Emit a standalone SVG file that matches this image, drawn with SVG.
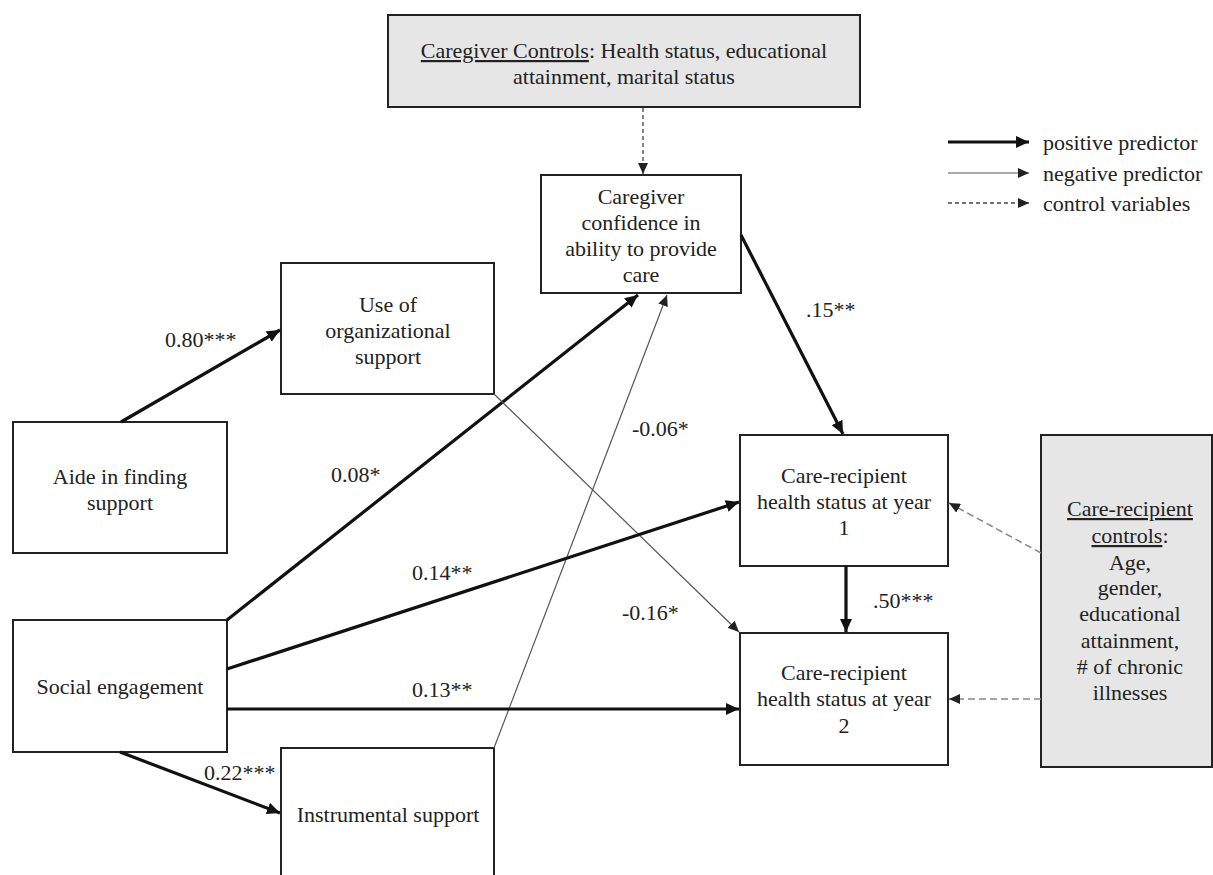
<svg xmlns="http://www.w3.org/2000/svg" width="1213" height="875" viewBox="0 0 1213 875">
<style>
text{font-family:"Liberation Serif","Times New Roman",serif;font-size:22px;fill:#222;}
.n{text-anchor:middle;}
.box{fill:#fff;stroke:#222;stroke-width:2;}
.ctl{fill:#e6e6e6;stroke:#222;stroke-width:2;}
.pos{stroke:#111;stroke-width:3.2;fill:none;}
.neg{stroke:#555;stroke-width:1.2;fill:none;}
.dk{stroke:#444;stroke-width:1.3;stroke-dasharray:4 3;fill:none;}
.lt{stroke:#888;stroke-width:1.5;stroke-dasharray:7 4;fill:none;}
</style>
<defs>
<marker id="ah" markerUnits="userSpaceOnUse" markerWidth="14" markerHeight="12" refX="13" refY="6" orient="auto"><path d="M0,0 L13,6 L0,12 z" fill="#111"/></marker>
<marker id="ahs" markerUnits="userSpaceOnUse" markerWidth="12" markerHeight="10" refX="11" refY="5" orient="auto"><path d="M0,0 L11,5 L0,10 z" fill="#222"/></marker>
</defs>

<g id="caregiver-controls">
<rect class="ctl" x="388" y="15" width="472" height="92"/>
<text class="n" x="624" y="58"><tspan text-decoration="underline">Caregiver Controls</tspan>: Health status, educational</text>
<text class="n" x="624" y="84">attainment, marital status</text>
</g>

<g id="confidence">
<rect class="box" x="541" y="175" width="200" height="118"/>
<text class="n" x="641" y="204">Caregiver</text>
<text class="n" x="641" y="230">confidence in</text>
<text class="n" x="641" y="256">ability to provide</text>
<text class="n" x="641" y="282">care</text>
</g>

<g id="org-support">
<rect class="box" x="281" y="263" width="213" height="131"/>
<text class="n" x="388" y="312">Use of</text>
<text class="n" x="388" y="338">organizational</text>
<text class="n" x="388" y="364">support</text>
</g>

<g id="aide">
<rect class="box" x="13" y="422" width="214" height="131"/>
<text class="n" x="120" y="484">Aide in finding</text>
<text class="n" x="120" y="510">support</text>
</g>

<g id="social">
<rect class="box" x="13" y="620" width="214" height="132"/>
<text class="n" x="120" y="694">Social engagement</text>
</g>

<g id="instrumental">
<rect class="box" x="281" y="748" width="213" height="140"/>
<text class="n" x="388" y="822">Instrumental support</text>
</g>

<g id="care1">
<rect class="box" x="740" y="435" width="208" height="131"/>
<text class="n" x="844" y="483">Care-recipient</text>
<text class="n" x="844" y="509">health status at year</text>
<text class="n" x="844" y="535">1</text>
</g>

<g id="care2">
<rect class="box" x="740" y="633" width="208" height="132"/>
<text class="n" x="844" y="680">Care-recipient</text>
<text class="n" x="844" y="706">health status at year</text>
<text class="n" x="844" y="733">2</text>
</g>

<g id="recipient-controls">
<rect class="ctl" x="1041" y="435" width="171" height="332"/>
<text class="n" x="1130" y="516" text-decoration="underline">Care-recipient</text>
<text class="n" x="1130" y="543"><tspan text-decoration="underline">controls</tspan>:</text>
<text class="n" x="1130" y="570">Age,</text>
<text class="n" x="1130" y="595">gender,</text>
<text class="n" x="1130" y="621">educational</text>
<text class="n" x="1130" y="648">attainment,</text>
<text class="n" x="1130" y="674"># of chronic</text>
<text class="n" x="1130" y="700">illnesses</text>
</g>

<g id="connectors">
<line class="dk" x1="643" y1="108" x2="643" y2="174" marker-end="url(#ahs)"/>
<line class="pos" x1="121" y1="422" x2="280" y2="330" marker-end="url(#ah)"/>
<line class="pos" x1="227" y1="620" x2="638" y2="295" marker-end="url(#ah)"/>
<line class="neg" x1="494" y1="748" x2="667" y2="295" marker-end="url(#ahs)"/>
<line class="neg" x1="494" y1="394" x2="739" y2="632" marker-end="url(#ahs)"/>
<line class="pos" x1="227" y1="669" x2="739" y2="502" marker-end="url(#ah)"/>
<line class="pos" x1="227" y1="709" x2="739" y2="709" marker-end="url(#ah)"/>
<line class="pos" x1="120" y1="752" x2="280" y2="813" marker-end="url(#ah)"/>
<line class="pos" x1="741" y1="235" x2="843" y2="434" marker-end="url(#ah)"/>
<line class="pos" x1="846" y1="566" x2="846" y2="632" marker-end="url(#ah)"/>
<line class="lt" x1="1041" y1="553" x2="949" y2="503" marker-end="url(#ahs)"/>
<line class="lt" x1="1041" y1="699" x2="949" y2="699" marker-end="url(#ahs)"/>
<line class="pos" x1="948" y1="142" x2="1029" y2="142" marker-end="url(#ah)"/>
<line class="neg" x1="948" y1="173" x2="1029" y2="173" marker-end="url(#ahs)"/>
<line class="dk" x1="948" y1="203" x2="1029" y2="203" marker-end="url(#ahs)"/>
</g>

<g id="labels">
<text x="165" y="347">0.80***</text>
<text x="331" y="482">0.08*</text>
<text x="632" y="436">-0.06*</text>
<text x="622" y="620">-0.16*</text>
<text x="412" y="580">0.14**</text>
<text x="412" y="697">0.13**</text>
<text x="204" y="780">0.22***</text>
<text x="806" y="317">.15**</text>
<text x="873" y="608">.50***</text>
<text x="1043" y="150">positive predictor</text>
<text x="1043" y="181">negative predictor</text>
<text x="1043" y="211">control variables</text>
</g>
</svg>
